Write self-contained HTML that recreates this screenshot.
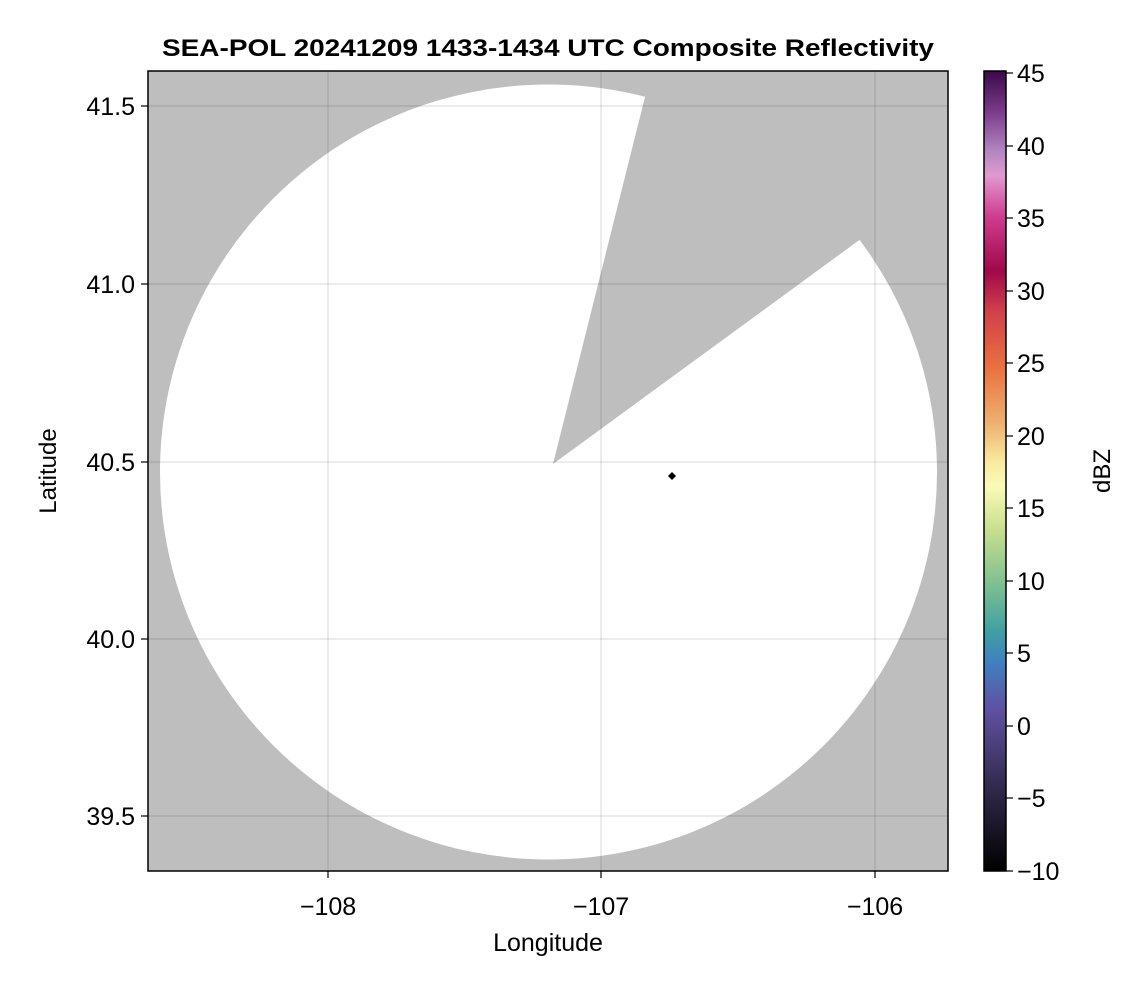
<!DOCTYPE html>
<html><head><style>
body{margin:0;background:#fff;width:1146px;height:990px;overflow:hidden;font-family:"Liberation Sans",sans-serif}
</style></head><body>
<svg width="1146" height="990" xmlns="http://www.w3.org/2000/svg" font-family="Liberation Sans, sans-serif">
<defs>
<clipPath id="c"><rect x="148" y="71" width="800" height="800"/></clipPath>
<linearGradient id="g" x1="0" y1="0" x2="0" y2="1">
<stop offset="0" stop-color="#3a0a4a"/>
<stop offset="0.05" stop-color="#7a3a88"/>
<stop offset="0.1" stop-color="#b286c0"/>
<stop offset="0.13" stop-color="#e09ad0"/>
<stop offset="0.18" stop-color="#d04090"/>
<stop offset="0.25" stop-color="#a0084a"/>
<stop offset="0.3" stop-color="#d0404a"/>
<stop offset="0.37" stop-color="#ea7040"/>
<stop offset="0.44" stop-color="#eeb070"/>
<stop offset="0.49" stop-color="#f8eca0"/>
<stop offset="0.52" stop-color="#fafab8"/>
<stop offset="0.57" stop-color="#cce090"/>
<stop offset="0.64" stop-color="#80c090"/>
<stop offset="0.7" stop-color="#40a0a0"/>
<stop offset="0.74" stop-color="#4080c0"/>
<stop offset="0.8" stop-color="#6050a0"/>
<stop offset="0.9" stop-color="#302848"/>
<stop offset="1" stop-color="#000000"/>
</linearGradient>
</defs>
<text x="548" y="56" text-anchor="middle" font-size="24" font-weight="bold" textLength="772" lengthAdjust="spacingAndGlyphs">SEA-POL 20241209 1433-1434 UTC Composite Reflectivity</text>
<g clip-path="url(#c)">
<rect x="148" y="71" width="800" height="800" fill="#bebebe"/>
<ellipse cx="548.5" cy="472" rx="388.5" ry="387.5" fill="#fff"/>
<polygon points="553,464 645,97 660,20 1000,20 1000,160 858,241" fill="#bebebe"/>
<g stroke="#000" stroke-opacity="0.12" stroke-width="1.2">
<line x1="328" y1="71" x2="328" y2="871"/><line x1="601" y1="71" x2="601" y2="871"/><line x1="875" y1="71" x2="875" y2="871"/>
<line x1="148" y1="106" x2="948" y2="106"/><line x1="148" y1="284" x2="948" y2="284"/><line x1="148" y1="462" x2="948" y2="462"/><line x1="148" y1="639" x2="948" y2="639"/><line x1="148" y1="816" x2="948" y2="816"/>
</g>
<polygon points="672,472 676,476 672,480 668,476" fill="#000"/>
</g>
<rect x="148" y="71" width="800" height="800" fill="none" stroke="#000" stroke-width="1.5"/>
<g stroke="#000" stroke-width="1.2">
<line x1="328" y1="871" x2="328" y2="878"/><line x1="601" y1="871" x2="601" y2="878"/><line x1="875" y1="871" x2="875" y2="878"/>
<line x1="141" y1="106" x2="148" y2="106"/><line x1="141" y1="284" x2="148" y2="284"/><line x1="141" y1="462" x2="148" y2="462"/><line x1="141" y1="639" x2="148" y2="639"/><line x1="141" y1="816" x2="148" y2="816"/>
</g>
<g font-size="25" text-anchor="middle">
<text x="328" y="915">−108</text><text x="601" y="915">−107</text><text x="875" y="915">−106</text>
<text x="548" y="951">Longitude</text>
</g>
<g font-size="25" text-anchor="end">
<text x="135" y="115">41.5</text><text x="135" y="293">41.0</text><text x="135" y="471">40.5</text><text x="135" y="648">40.0</text><text x="135" y="825">39.5</text>
</g>
<text transform="translate(56,471) rotate(-90)" font-size="24" text-anchor="middle">Latitude</text>
<rect x="984" y="71" width="22" height="800" fill="url(#g)" stroke="#000" stroke-width="1.5"/>
<g stroke="#000" stroke-width="1.2">
<line x1="1006" y1="73" x2="1013" y2="73"/><line x1="1006" y1="146" x2="1013" y2="146"/><line x1="1006" y1="218" x2="1013" y2="218"/><line x1="1006" y1="291" x2="1013" y2="291"/><line x1="1006" y1="363" x2="1013" y2="363"/><line x1="1006" y1="436" x2="1013" y2="436"/><line x1="1006" y1="508" x2="1013" y2="508"/><line x1="1006" y1="581" x2="1013" y2="581"/><line x1="1006" y1="653" x2="1013" y2="653"/><line x1="1006" y1="726" x2="1013" y2="726"/><line x1="1006" y1="798" x2="1013" y2="798"/><line x1="1006" y1="871" x2="1013" y2="871"/>
</g>
<g font-size="25">
<text x="1017" y="82">45</text><text x="1017" y="155">40</text><text x="1017" y="227">35</text><text x="1017" y="300">30</text><text x="1017" y="372">25</text><text x="1017" y="445">20</text><text x="1017" y="517">15</text><text x="1017" y="590">10</text><text x="1017" y="662">5</text><text x="1017" y="735">0</text><text x="1017" y="807">−5</text><text x="1017" y="880">−10</text>
</g>
<text transform="translate(1110,471) rotate(-90)" font-size="24" text-anchor="middle">dBZ</text>
</svg>
</body></html>
